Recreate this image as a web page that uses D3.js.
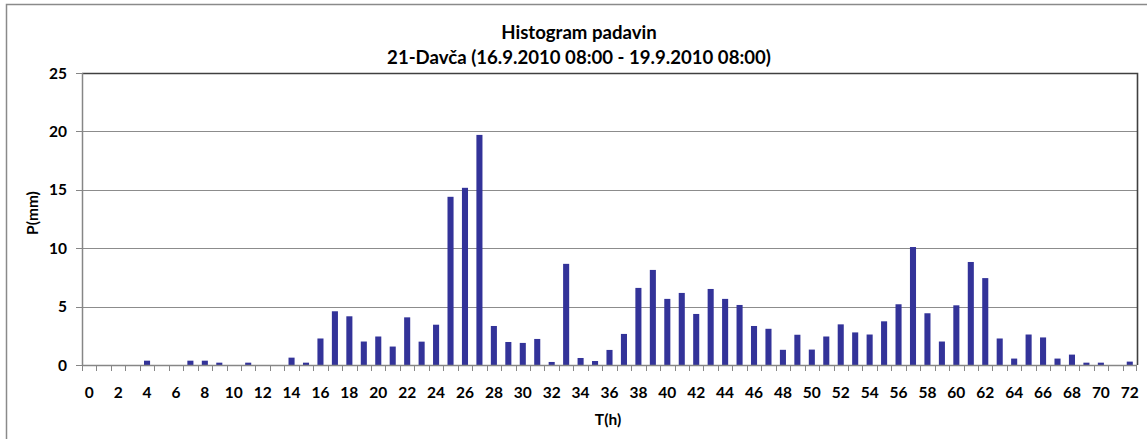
<!DOCTYPE html>
<html>
<head>
<meta charset="utf-8">
<script src="https://cdn.jsdelivr.net/npm/d3@7"></script>
<style>
  body { margin: 0; background: #fff; }
  svg text { font-family: Lato, "Open Sans", sans-serif; font-weight: bold; fill: #000; }
</style>
</head>
<body>
<div id="vizcont"></div>
<script>
// hours 0..72
var hours = d3.range(0, 73);
// precipitation per hour (mm)
var rain = [0, 0, 0, 0, 0.37, 0, 0, 0.37, 0.37, 0.2,
            0, 0.2, 0, 0, 0.63, 0.2, 2.27, 4.6, 4.17, 2.01,
            2.44, 1.58, 4.08, 2.0, 3.45, 14.4, 15.17, 19.7, 3.34, 1.97,
            1.89, 2.23, 0.26, 8.66, 0.6, 0.34, 1.29, 2.66, 6.6, 8.14,
            5.66, 6.17, 4.37, 6.51, 5.66, 5.14, 3.34, 3.1, 1.3, 2.59,
            1.32, 2.44, 3.48, 2.79, 2.61, 3.74, 5.2, 10.1, 4.43, 2.01,
            5.11, 8.82, 7.44, 2.27, 0.55, 2.61, 2.36, 0.55, 0.89, 0.2,
            0.2, 0, 0.29];
var yTicks = [0, 5, 10, 15, 20, 25];
var titleLines = ["Histogram padavin", "21-Davča (16.9.2010 08:00 - 19.9.2010 08:00)"];

var W = 1147, H = 439;
var margin = {top: 73, right: 10, bottom: 74, left: 82};
var width = 1137 - margin.left;
var height = 365 - margin.top;

var svg = d3.select("#vizcont").append("svg")
    .attr("width", W).attr("height", H);

// outer chart frame (runs off the window on right and bottom)
svg.append("rect")
    .attr("x", 6.5).attr("y", 4.5)
    .attr("width", 1160).attr("height", 460)
    .attr("fill", "none").attr("stroke", "#8a8a8a").attr("stroke-width", 1.5);

var g = svg.append("g")
    .attr("transform", "translate(" + margin.left + "," + margin.top + ")");

var x = d3.scaleBand().domain(hours).range([0, width]).paddingInner(0.58).paddingOuter(0.29);
var xb = d3.scaleBand().domain(hours).range([0, width]);
var y = d3.scaleLinear().domain([0, 25]).range([height, 0]);

// gridlines
g.append("g")
    .selectAll("line")
    .data(yTicks.filter(function(d) { return d > 0 && d < 25; }))
    .enter().append("line")
    .attr("x1", 0).attr("x2", width)
    .attr("y1", function(d) { return Math.round(y(d)) + 0.5; })
    .attr("y2", function(d) { return Math.round(y(d)) + 0.5; })
    .attr("stroke", "#8c8c8c").attr("stroke-width", 1.2);

// bars
g.append("g")
    .selectAll("rect")
    .data(hours)
    .enter().append("rect")
    .attr("x", function(d) { return x(d); })
    .attr("width", x.bandwidth())
    .attr("y", function(d) { return y(rain[d]); })
    .attr("height", function(d) { return height - y(rain[d]); })
    .attr("fill", "#333399");

// plot border top & right
g.append("path")
    .attr("d", "M0," + 0.5 + "H" + (width + 0.5) + "V" + height)
    .attr("fill", "none").attr("stroke", "#404040").attr("stroke-width", 1.6);

// x axis
var xAxis = g.append("g")
    .attr("transform", "translate(0," + height + ")");
xAxis.append("line")
    .attr("x1", 0).attr("x2", width)
    .attr("y1", 0.5).attr("y2", 0.5)
    .attr("stroke", "#868686").attr("stroke-width", 1.5);
xAxis.selectAll("line.tick")
    .data(hours.concat([73]))
    .enter().append("line")
    .attr("class", "tick")
    .attr("x1", function(d) { return d < 73 ? Math.round(xb(d)) + 0.5 : width - 0.5; })
    .attr("x2", function(d) { return d < 73 ? Math.round(xb(d)) + 0.5 : width - 0.5; })
    .attr("y1", 0).attr("y2", 6)
    .attr("stroke", "#868686").attr("stroke-width", 1);
xAxis.selectAll("text")
    .data(hours.filter(function(d) { return d % 2 === 0; }))
    .enter().append("text")
    .attr("x", function(d) { return xb(d) + xb.bandwidth() / 2; })
    .attr("y", 33)
    .attr("text-anchor", "middle")
    .style("font-size", "15.5px")
    .text(function(d) { return d; });

// y axis
var yAxis = g.append("g");
yAxis.append("line")
    .attr("x1", 0.5).attr("x2", 0.5)
    .attr("y1", 0).attr("y2", height)
    .attr("stroke", "#868686").attr("stroke-width", 1.5);
yAxis.selectAll("line.tick")
    .data(yTicks)
    .enter().append("line")
    .attr("class", "tick")
    .attr("x1", -6).attr("x2", 0)
    .attr("y1", function(d) { return Math.round(y(d)) + 0.5; })
    .attr("y2", function(d) { return Math.round(y(d)) + 0.5; })
    .attr("stroke", "#868686");
yAxis.selectAll("text")
    .data(yTicks)
    .enter().append("text")
    .attr("x", -15)
    .attr("y", function(d) { return y(d); })
    .attr("dy", "0.36em")
    .attr("text-anchor", "end")
    .style("font-size", "15.5px")
    .text(function(d) { return d; });

// axis titles
svg.append("text")
    .attr("x", 608).attr("y", 425)
    .attr("text-anchor", "middle")
    .style("font-size", "15.5px")
    .text("T(h)");
svg.append("text")
    .attr("transform", "translate(38,213) rotate(-90)")
    .attr("text-anchor", "middle")
    .style("font-size", "15.5px")
    .text("P(mm)");

// title
svg.append("g").selectAll("text")
    .data(titleLines)
    .enter().append("text")
    .attr("x", 579)
    .attr("y", function(d, i) { return 39 + i * 25; })
    .attr("text-anchor", "middle")
    .style("font-size", "18.6px")
    .text(function(d) { return d; });
</script>
</body>
</html>
